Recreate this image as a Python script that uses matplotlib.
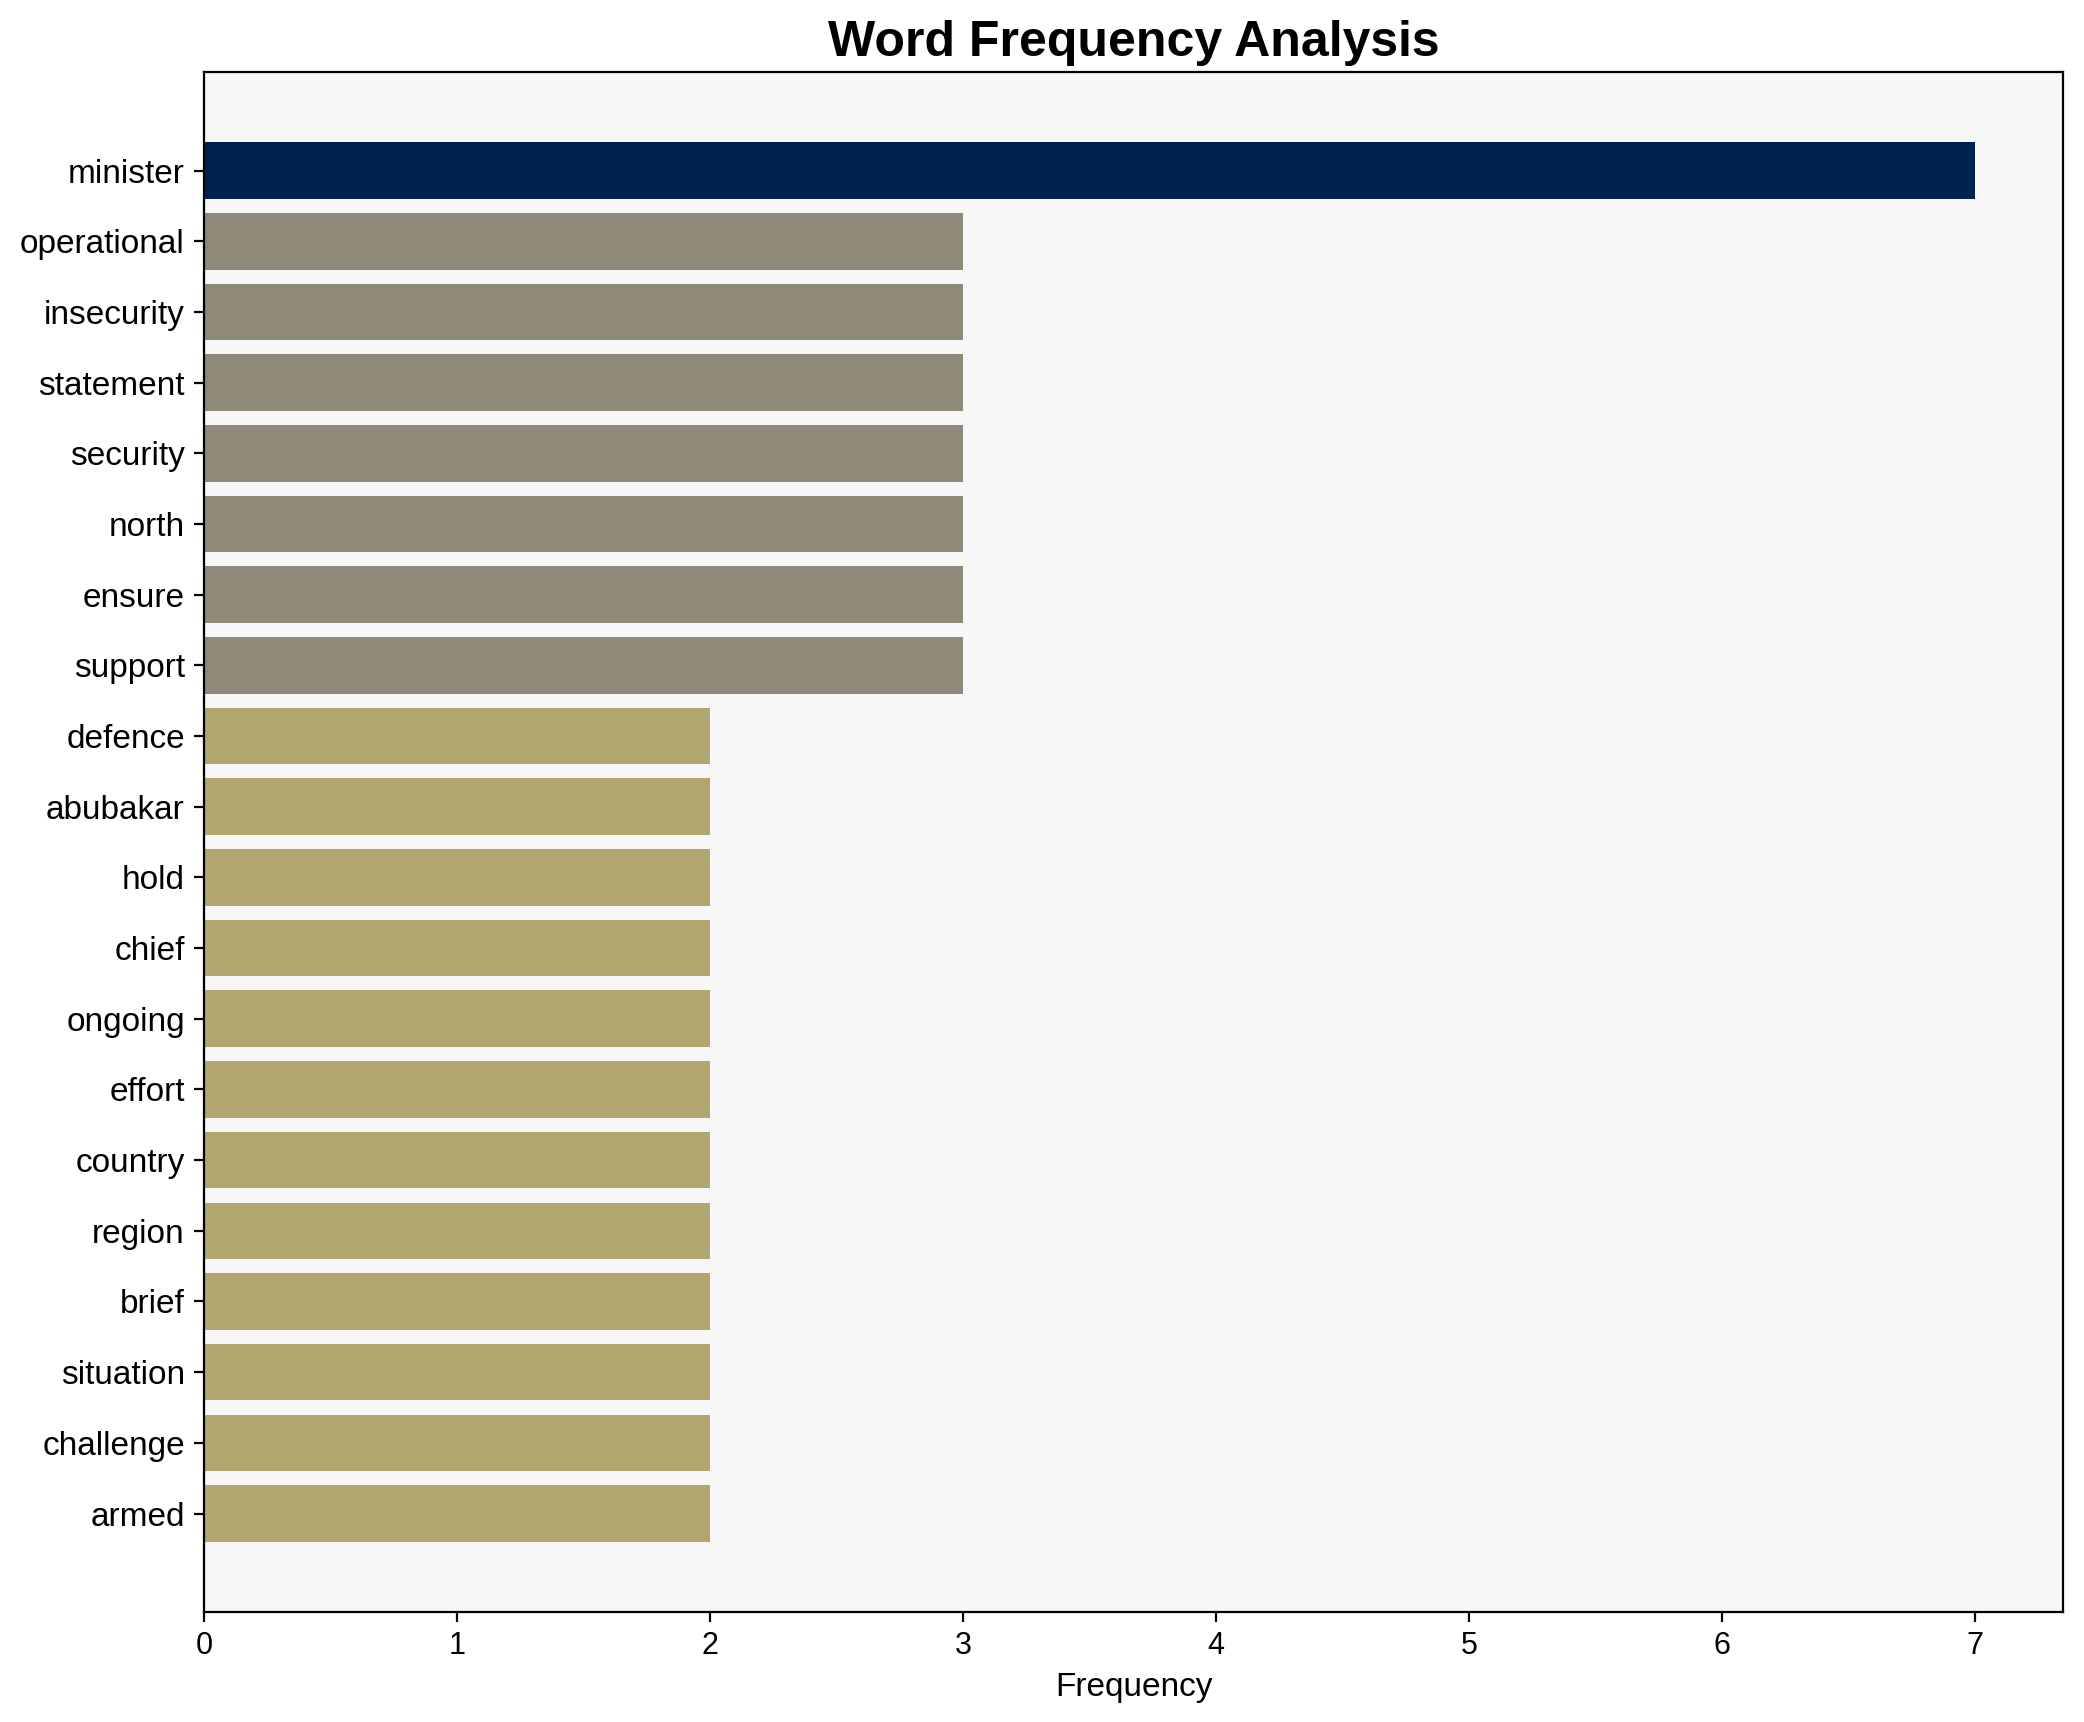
import matplotlib
matplotlib.use("Agg")
import matplotlib.pyplot as plt
import numpy as np

plt.rcParams['font.family'] = ['Liberation Sans', 'DejaVu Sans']

words = ["minister", "operational", "insecurity", "statement", "security", "north",
         "ensure", "support", "defence", "abubakar", "hold", "chief", "ongoing",
         "effort", "country", "region", "brief", "situation", "challenge", "armed"]
counts = [7, 3, 3, 3, 3, 3, 3, 3, 2, 2, 2, 2, 2, 2, 2, 2, 2, 2, 2, 2]

fig, ax = plt.subplots(figsize=(10.42, 8.61), dpi=200)
fig.subplots_adjust(left=0.098, right=0.990, top=0.958, bottom=0.064)

vals = np.array(counts)
colors = plt.cm.cividis(1 - vals / vals.max())
y = np.arange(len(words))
ax.barh(y, vals, color=colors, height=0.8)
ax.set_yticks(y)
ax.set_yticklabels(words, fontsize=12)
ax.invert_yaxis()
ax.tick_params(axis='x', labelsize=11)
ax.set_xlabel("Frequency", fontsize=12)
ax.set_title("Word Frequency Analysis", fontsize=18, fontweight='bold')
ax.set_facecolor('#f7f7f7')

fig.savefig("out.png", dpi=200)
